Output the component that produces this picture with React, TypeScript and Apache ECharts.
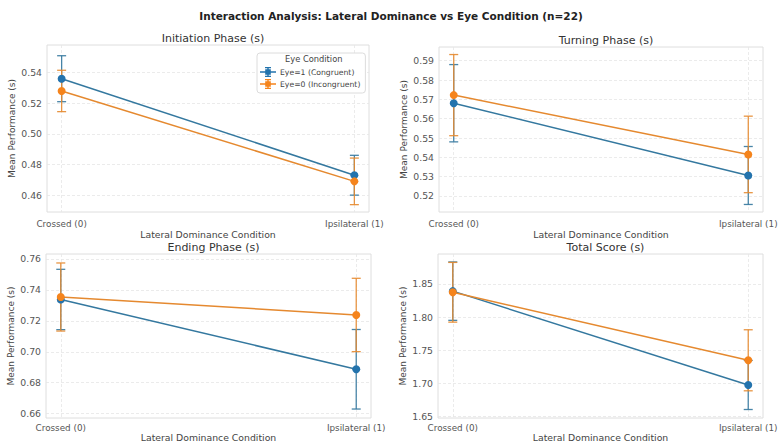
import React, { useEffect, useRef } from "react";
import * as echarts from "echarts";

const categories = ["Crossed (0)", "Ipsilateral (1)"];
const xPositions = [0, 1];
const panelTitles = ["Initiation Phase (s)", "Turning Phase (s)", "Ending Phase (s)", "Total Score (s)"];
const seriesNames = ["Eye=1 (Congruent)", "Eye=0 (Incongruent)"];

const initEye1 = [0.536, 0.473];
const initEye1Err = [0.015, 0.013];
const initEye0 = [0.528, 0.469];
const initEye0Err = [0.0135, 0.0152];

const turnEye1 = [0.568, 0.5306];
const turnEye1Err = [0.02, 0.015];
const turnEye0 = [0.5722, 0.5415];
const turnEye0Err = [0.021, 0.0198];

const endEye1 = [0.7338, 0.6887];
const endEye1Err = [0.0195, 0.0257];
const endEye0 = [0.7354, 0.7238];
const endEye0Err = [0.022, 0.0237];

const totalEye1 = [1.8392, 1.6978];
const totalEye1Err = [0.044, 0.037];
const totalEye0 = [1.8375, 1.735];
const totalEye0Err = [0.045, 0.046];

const initTicks = [0.46, 0.48, 0.5, 0.52, 0.54];
const turnTicks = [0.52, 0.53, 0.54, 0.55, 0.56, 0.57, 0.58, 0.59];
const endTicks = [0.66, 0.68, 0.7, 0.72, 0.74, 0.76];
const totalTicks = [1.65, 1.7, 1.75, 1.8, 1.85];

const BLUE = "#2373ad";
const ORANGE = "#f5841c";
const BLUE_LINE = "#34789f";
const ORANGE_LINE = "#e5892f";
const FONT = "DejaVu Sans";

const panels = [
  { title: panelTitles[0], e1: initEye1, e1e: initEye1Err, e0: initEye0, e0e: initEye0Err, ticks: initTicks, min: 0.449, max: 0.558,
    grid: { left: 47, top: 45, width: 322, height: 167 }, nameGap: 18, labelMargin: 7 },
  { title: panelTitles[1], e1: turnEye1, e1e: turnEye1Err, e0: turnEye0, e0e: turnEye0Err, ticks: turnTicks, min: 0.5117, max: 0.5971,
    grid: { left: 439, top: 47, width: 324, height: 165 }, nameGap: 18, labelMargin: 7 },
  { title: panelTitles[2], e1: endEye1, e1e: endEye1Err, e0: endEye0, e0e: endEye0Err, ticks: endTicks, min: 0.6572, max: 0.7632,
    grid: { left: 46, top: 254, width: 325, height: 164 }, nameGap: 15, labelMargin: 5 },
  { title: panelTitles[3], e1: totalEye1, e1e: totalEye1Err, e0: totalEye0, e0e: totalEye0Err, ticks: totalTicks, min: 1.648, max: 1.8952,
    grid: { left: 438, top: 254, width: 325, height: 164 }, nameGap: 15, labelMargin: 5 },
];

function errorRender(color: string) {
  return (params: any, api: any) => {
    const x = api.value(0);
    const lo = api.value(1);
    const hi = api.value(2);
    const p1 = api.coord([x, hi]);
    const p2 = api.coord([x, lo]);
    const cap = 4.5;
    const style = { stroke: color, lineWidth: 1.3, opacity: 0.9 };
    return {
      type: "group",
      children: [
        { type: "line", shape: { x1: p1[0], y1: p1[1], x2: p2[0], y2: p2[1] }, style },
        { type: "line", shape: { x1: p1[0] - cap, y1: p1[1], x2: p1[0] + cap, y2: p1[1] }, style },
        { type: "line", shape: { x1: p2[0] - cap, y1: p2[1], x2: p2[0] + cap, y2: p2[1] }, style },
      ],
    };
  };
}

const legendIcon =
  "path://M0,4.3 L16,4.3 L16,5.7 L0,5.7 Z M7.3,0 L8.7,0 L8.7,10 L7.3,10 Z M5,0 L11,0 L11,1.2 L5,1.2 Z M5,8.8 L11,8.8 L11,10 L5,10 Z M5.2,2.2 L10.8,2.2 L10.8,7.8 L5.2,7.8 Z";

export default function App() {
  const ref = useRef<HTMLDivElement>(null);
  useEffect(() => {
    if (!ref.current) return;
    const chart = echarts.init(ref.current, null, { renderer: "svg" });

    const grids: any[] = [];
    const xAxes: any[] = [];
    const yAxes: any[] = [];
    const series: any[] = [];
    const titles: any[] = [
      {
        text: "Interaction Analysis: Lateral Dominance vs Eye Condition (n=22)",
        left: "center",
        top: 5,
        textStyle: { fontFamily: FONT, fontSize: 10.5, fontWeight: "bold", color: "#222" },
      },
    ];

    panels.forEach((p, i) => {
      grids.push({
        ...p.grid,
        show: true,
        borderColor: "#dedede",
        borderWidth: 1,
        backgroundColor: "transparent",
      });
      titles.push({
        text: p.title,
        left: p.grid.left + p.grid.width / 2,
        textAlign: "center",
        top: p.grid.top - 17,
        textStyle: { fontFamily: FONT, fontSize: 11, fontWeight: "normal", color: "#333" },
      });
      xAxes.push({
        type: "value",
        gridIndex: i,
        min: -0.05,
        max: 1.05,
        name: "Lateral Dominance Condition",
        nameLocation: "middle",
        nameGap: p.nameGap,
        nameTextStyle: { fontFamily: FONT, fontSize: 9.3, color: "#444" },
        axisLine: { show: false },
        axisTick: { show: false, customValues: xPositions },
        axisLabel: {
          customValues: xPositions,
          formatter: (v: number) => categories[Math.round(v)] ?? "",
          fontFamily: FONT,
          fontSize: 8.8,
          color: "#555",
          margin: p.labelMargin,
        },
        splitLine: { show: true, lineStyle: { color: "#e6e6e6", type: [3, 2], width: 0.8 } },
      });
      yAxes.push({
        type: "value",
        gridIndex: i,
        min: p.min,
        max: p.max,
        name: "Mean Performance (s)",
        nameLocation: "middle",
        nameGap: 31,
        nameTextStyle: { fontFamily: FONT, fontSize: 9, color: "#444" },
        axisLine: { show: false },
        axisTick: { show: false, customValues: p.ticks },
        axisLabel: {
          customValues: p.ticks,
          formatter: (v: number) => v.toFixed(2),
          fontFamily: FONT,
          fontSize: 9.3,
          color: "#555",
          margin: 5,
        },
        splitLine: { show: true, lineStyle: { color: "#e6e6e6", type: [3, 2], width: 0.8 } },
      });

      const groups = [
        { name: seriesNames[0], m: p.e1, e: p.e1e, color: BLUE, line: BLUE_LINE },
        { name: seriesNames[1], m: p.e0, e: p.e0e, color: ORANGE, line: ORANGE_LINE },
      ];
      groups.forEach((g) => {
        series.push({
          type: "custom",
          name: g.name + " err",
          xAxisIndex: i,
          yAxisIndex: i,
          renderItem: errorRender(g.line),
          data: xPositions.map((x, k) => [x, g.m[k] - g.e[k], g.m[k] + g.e[k]]),
          silent: true,
        });
        series.push({
          type: "line",
          name: g.name,
          xAxisIndex: i,
          yAxisIndex: i,
          data: xPositions.map((x, k) => [x, g.m[k]]),
          symbol: "circle",
          symbolSize: 8,
          lineStyle: { color: g.line, width: 1.5 },
          itemStyle: { color: g.color },
        });
      });
    });

    chart.setOption({
      animation: false,
      backgroundColor: "#ffffff",
      title: titles,
      grid: grids,
      xAxis: xAxes,
      yAxis: yAxes,
      series,
      legend: {
        data: seriesNames.map((n) => ({ name: n, icon: legendIcon })),
        left: 257,
        top: 53,
        orient: "vertical",
        itemGap: 2,
        itemWidth: 16,
        itemHeight: 10,
        selectedMode: false,
        padding: [14, 5, 4, 3],
        backgroundColor: "#ffffff",
        borderColor: "#dcdcdc",
        borderWidth: 1,
        borderRadius: 3,
        textStyle: { fontFamily: FONT, fontSize: 7.7, color: "#444", padding: [0, 0, 0, -1] },
      },
      graphic: [
        {
          type: "text",
          left: 285,
          top: 55,
          z: 100,
          style: { text: "Eye Condition", fontFamily: FONT, fontSize: 8.3, fill: "#444" },
        },
      ],
    });
    return () => chart.dispose();
  }, []);
  return <div ref={ref} style={{ width: 782, height: 445, position: "absolute", left: 0, top: 0 }} />;
}
